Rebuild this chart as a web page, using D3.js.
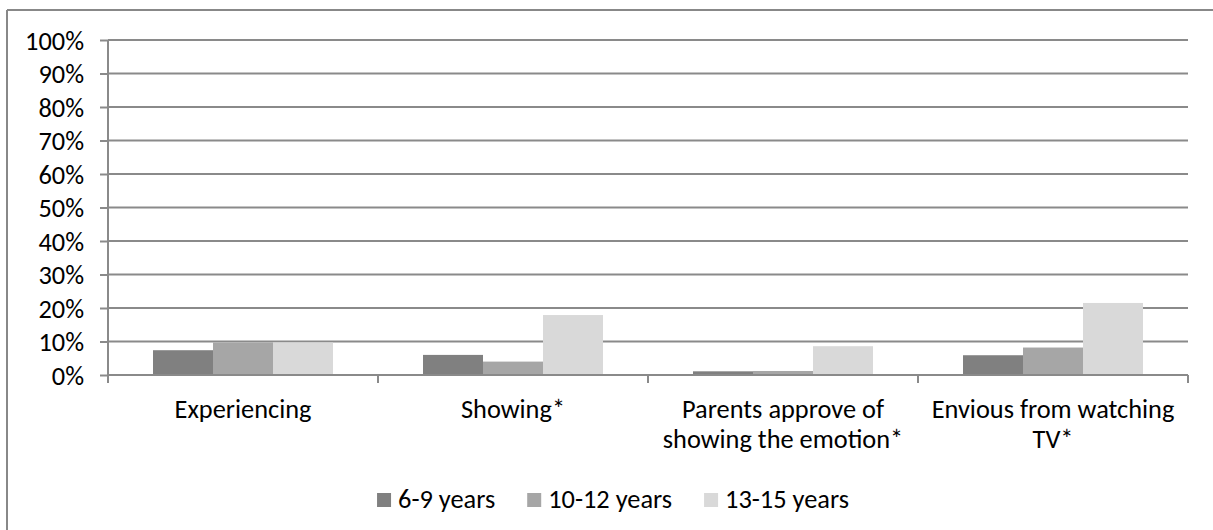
<!DOCTYPE html>
<html><head><meta charset="utf-8">
<script src="https://cdn.jsdelivr.net/npm/d3@7"></script>
<style>html,body{margin:0;padding:0;background:#fff;}svg{display:block;}</style>
</head><body>
<script>
const categories = [["Experiencing"], ["Showing*"], ["Parents approve of", "showing the emotion*"], ["Envious from watching", "TV*"]];
const seriesNames = ["6-9 years", "10-12 years", "13-15 years"];
const s69 = [7.4, 6.0, 1.1, 5.9];
const s1012 = [9.7, 4.0, 1.2, 8.2];
const s1315 = [9.7, 17.9, 8.6, 21.5];
const yTicks = [0, 10, 20, 30, 40, 50, 60, 70, 80, 90, 100];
const colors = ["#808080", "#a6a6a6", "#d9d9d9"];

(function() {
const W = 1213, H = 530;
const svg = d3.select("body").append("svg").attr("width", W).attr("height", H);
const FONT = "Carlito, Calibri, Lato, sans-serif";

// calibrate font size so "Experiencing" is ~137px wide
const probe = svg.append("text").attr("font-family", FONT).attr("font-size", 100).text("Experiencing");
const pw = probe.node().getComputedTextLength();
probe.remove();
const FS = 100 * 137 / pw;

// outer frame (top & left visible)
svg.append("line").attr("x1", 7).attr("x2", W).attr("y1", 10).attr("y2", 10).attr("stroke", "#888").attr("stroke-width", 2);
svg.append("line").attr("x1", 7).attr("x2", 7).attr("y1", 10).attr("y2", H).attr("stroke", "#888").attr("stroke-width", 2);

const pL = 108, pR = 1188, pT = 40, pB = 375;
const x0 = d3.scaleBand().domain(d3.range(categories.length)).range([pL, pR]).paddingInner(0).paddingOuter(0);
const gapFrac = 90 / 270;
const x1 = d3.scaleBand().domain(d3.range(seriesNames.length)).range([x0.bandwidth() * gapFrac / 2, x0.bandwidth() * (1 - gapFrac / 2)]);
const y = d3.scaleLinear().domain([0, 100]).range([pB, pT]);

// gridlines
svg.append("g").selectAll("line").data(yTicks.filter(d => d > 0)).join("line")
  .attr("x1", pL).attr("x2", pR).attr("y1", d => y(d)).attr("y2", d => y(d))
  .attr("stroke", "#8a8a8a").attr("stroke-width", 2);

// bars
const series = [s69, s1012, s1315];
series.forEach((vals, si) => {
  svg.append("g").selectAll("rect").data(vals).join("rect")
    .attr("x", (d, i) => x0(i) + x1(si))
    .attr("width", x1.bandwidth())
    .attr("y", d => y(d))
    .attr("height", d => y(0) - y(d))
    .attr("fill", colors[si]);
});

// y axis
const yAxis = d3.axisLeft(y).tickValues(yTicks).tickFormat(d => d + "%").tickSize(8).tickPadding(16);
const ya = svg.append("g").attr("transform", `translate(${pL},0)`).call(yAxis);
ya.select(".domain").attr("stroke", "#8a8a8a").attr("stroke-width", 2).attr("d", `M0,${pT}V${pB}`);
ya.selectAll(".tick line").attr("stroke", "#8a8a8a").attr("stroke-width", 2);
ya.selectAll(".tick text").attr("font-family", FONT).attr("font-size", FS).attr("fill", "#000").attr("dy", "0.35em");

// x axis line & ticks
const xTickPos = d3.range(categories.length + 1).map(i => pL + i * x0.bandwidth());
svg.append("line").attr("x1", pL).attr("x2", pR).attr("y1", pB).attr("y2", pB).attr("stroke", "#8a8a8a").attr("stroke-width", 2);
svg.append("g").selectAll("line").data(xTickPos).join("line")
  .attr("x1", d => d).attr("x2", d => d).attr("y1", pB).attr("y2", pB + 8)
  .attr("stroke", "#8a8a8a").attr("stroke-width", 2);

// x labels
const xl = svg.append("g").selectAll("text").data(categories).join("text")
  .attr("font-family", FONT).attr("font-size", FS).attr("text-anchor", "middle")
  .attr("x", (d, i) => x0(i) + x0.bandwidth() / 2).attr("y", 418);
xl.selectAll("tspan").data(d => d).join("tspan")
  .attr("x", function() { return d3.select(this.parentNode).attr("x"); })
  .attr("dy", (d, i) => i === 0 ? 0 : 30).text(d => d);

// legend
const lg = svg.append("g");
const items = seriesNames.map((n, i) => {
  const g = lg.append("g");
  g.append("rect").attr("width", 14).attr("height", 14).attr("y", -15).attr("fill", colors[i]);
  const t = g.append("text").attr("x", 21).attr("font-family", FONT).attr("font-size", FS).text(n);
  return {g, w: 21 + t.node().getComputedTextLength()};
});
const gap = 32;
const total = d3.sum(items, d => d.w) + gap * (items.length - 1);
let cx = 613 - total / 2;
items.forEach(it => { it.g.attr("transform", `translate(${cx},${508})`); cx += it.w + gap; });
})();
</script>
</body></html>
